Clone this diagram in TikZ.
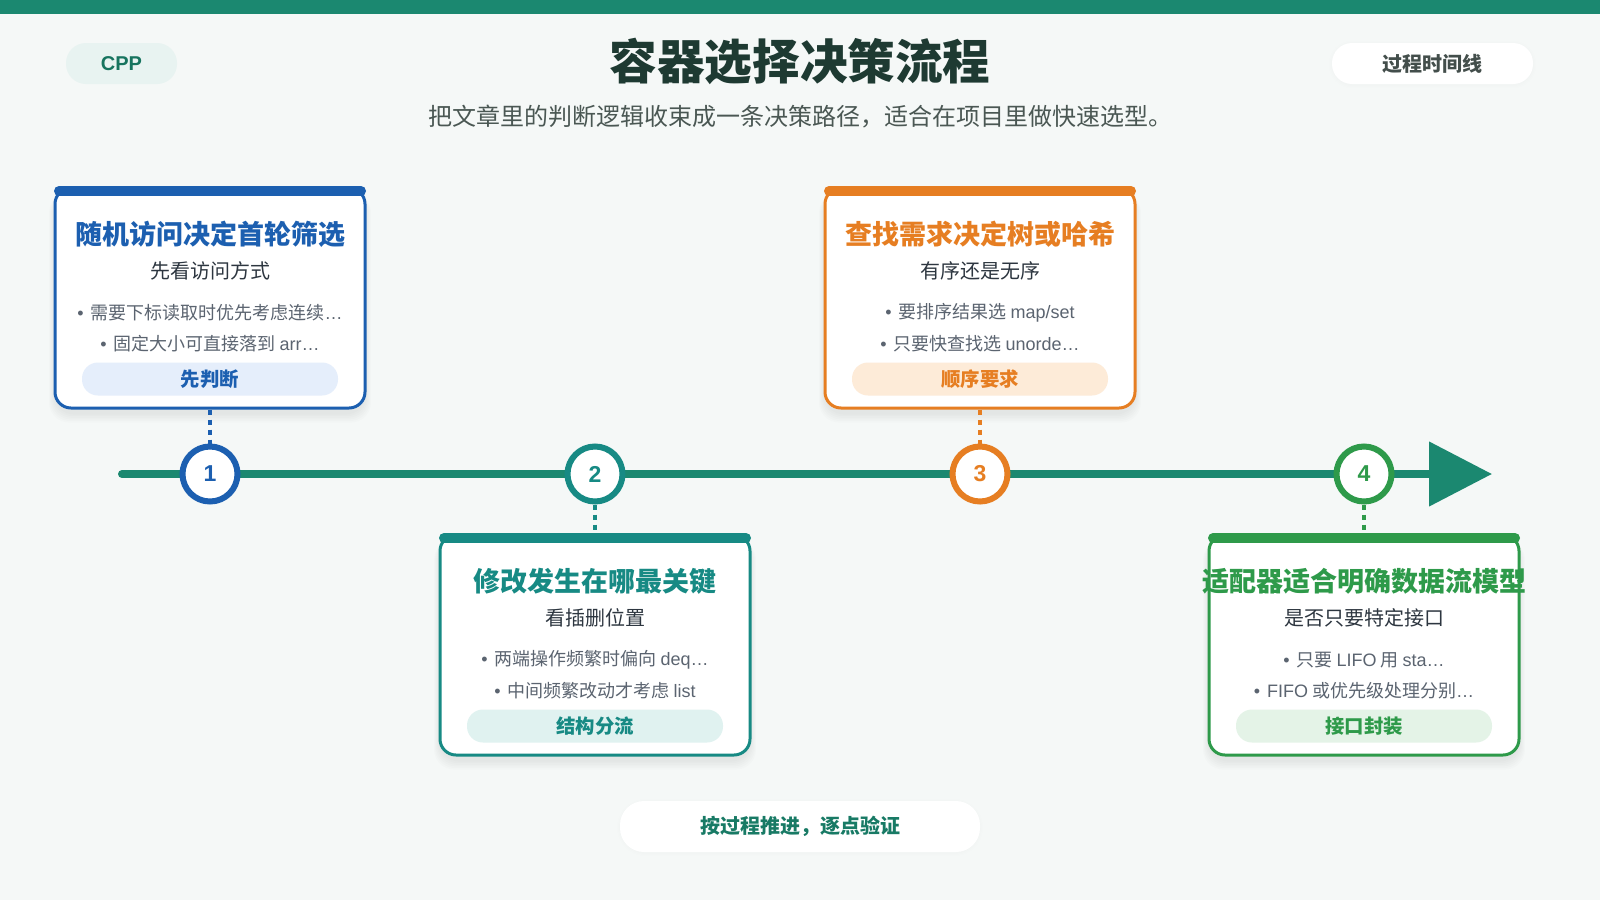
\documentclass[tikz,border=0pt]{standalone}
\usepackage{fontspec}
\setmainfont{Noto Sans CJK SC}
\newfontfamily\latf{Liberation Sans}
\usetikzlibrary{arrows.meta}
\definecolor{bgc}{HTML}{F5F8F7}
\definecolor{tlc}{HTML}{1B8870}
\definecolor{ttl}{HTML}{1E3A32}
\definecolor{subc}{HTML}{4A5753}
\definecolor{cardsub}{HTML}{2D3640}
\definecolor{bulc}{HTML}{5B6470}
\definecolor{colA}{HTML}{1C5FB0}\definecolor{ltA}{HTML}{E5EEFB}
\definecolor{colB}{HTML}{178A84}\definecolor{ltB}{HTML}{E0F2F0}
\definecolor{colC}{HTML}{E67E22}\definecolor{ltC}{HTML}{FDEBD8}
\definecolor{colD}{HTML}{2E9A4A}\definecolor{ltD}{HTML}{E4F3E7}
\newcommand\myfs[1]{\fontsize{#1}{#1}\selectfont}
\newcommand\lf[1]{{\latf #1}}
\newcommand\bul{\lf{•}\hspace{3.5pt}}
\tikzset{
  numring/.style={circle, line width=3pt, fill=white, minimum size=27.5pt, inner sep=0pt, font=\latf\bfseries\myfs{11.5}},
  dashlink/.style={line width=1.6pt, dash pattern=on 2.6pt off 2.4pt},
  cardbox/.style={line width=1.5pt, fill=white, rounded corners=8pt, minimum width=155pt, minimum height=110pt, inner sep=0pt},
  pillbox/.style={rounded corners=8pt, minimum width=128pt, minimum height=16.5pt, inner sep=0pt, font=\bfseries\myfs{9.7}},
}
\newcommand\mkcard[8]{%
 \begin{scope}[shift={(#2,#3)}]
  \foreach \k in {1,...,6} \fill[black,opacity=0.013,rounded corners=10pt] (-155-\k,5) rectangle (155+\k,225+1.6*\k);
  \node[cardbox, draw=col#1] (card#1) at (0,110) {};
  \draw[col#1, line width=5pt, line cap=round] (-151,3) -- (151,3);
  \node[text=col#1, font=\bfseries\myfs{13.5}] (t#1) at (0,46) {#4};
  \node[text=cardsub, font=\myfs{10}] (s#1) at (0,83) {#5};
  \node[text=bulc, font=\myfs{9}] (ba#1) at (0,125) {\bul #6};
  \node[text=bulc, font=\myfs{9}] (bb#1) at (0,156) {\bul #7};
  \node[pillbox, fill=lt#1, text=col#1] (p#1) at (0,191) {#8};
 \end{scope}}
\begin{document}
\begin{tikzpicture}[x=0.5pt,y=-0.5pt]
\useasboundingbox (0,0) rectangle (1600,900);
\fill[bgc] (0,0) rectangle (1600,900);
\fill[tlc] (0,0) rectangle (1600,14);
% header pills
\node[fill=tlc!10!white, rounded corners=10pt, minimum width=55.5pt, minimum height=20.5pt, inner sep=0pt, text=tlc!85!black, font=\latf\bfseries\myfs{10}] (cpp) at (121.5,63.5) {CPP};
\foreach \k in {1,...,3} \fill[black,opacity=0.003,rounded corners=11pt] (1332-\k,43-\k+1) rectangle (1533+\k,84+\k+1);
\node[fill=white, rounded corners=10pt, minimum width=100.5pt, minimum height=20.5pt, inner sep=0pt, text=subc!90!black, font=\bfseries\myfs{10}] (tl) at (1432.5,63.5) {过程时间线};
% title
\node[text=ttl, font=\bfseries\myfs{23.8}] (title) at (800,61) {容器选择决策流程};
\node[text=subc, font=\myfs{12}] (subtitle) at (800,117) {把文章里的判断逻辑收束成一条决策路径，适合在项目里做快速选型。};
% timeline
\coordinate (tstart) at (122,474);
\coordinate (tend) at (1492,474);
\draw[tlc, line width=4pt, line cap=round, -{Triangle[length=31.5pt,width=31.5pt]}] (tstart) -- (tend);
% cards
\mkcard{A}{210}{188}{随机访问决定首轮筛选}{先看访问方式}{需要下标读取时优先考虑连续\lf{…}}{固定大小可直接落到 \lf{arr…}}{先判断}
\mkcard{B}{595}{535}{修改发生在哪最关键}{看插删位置}{两端操作频繁时偏向 \lf{deq…}}{中间频繁改动才考虑 \lf{list}}{结构分流}
\mkcard{C}{980}{188}{查找需求决定树或哈希}{有序还是无序}{要排序结果选 \lf{map/set}}{只要快查找选 \lf{unorde…}}{顺序要求}
\mkcard{D}{1364}{535}{适配器适合明确数据流模型}{是否只要特定接口}{只要 \lf{LIFO} 用 \lf{sta…}}{\lf{FIFO} 或优先级处理分别\lf{…}}{接口封装}
% number circles
\node[numring, draw=colA, text=colA] (nA) at (210,474) {1};
\node[numring, draw=colB, text=colB] (nB) at (595,474) {2};
\node[numring, draw=colC, text=colC] (nC) at (980,474) {3};
\node[numring, draw=colD, text=colD] (nD) at (1364,474) {4};
% connectors
\draw[dashlink, colA] (cardA.south) -- (nA.north);
\draw[dashlink, colB] (nB.south) -- (cardB.north);
\draw[dashlink, colC] (cardC.south) -- (nC.north);
\draw[dashlink, colD] (nD.south) -- (cardD.north);
% bottom pill
\foreach \k in {1,...,3} \fill[black,opacity=0.003,rounded corners=14pt] (620-\k,801-\k+1) rectangle (980+\k,852+\k+1);
\node[fill=white, rounded corners=12pt, minimum width=180pt, minimum height=25.5pt, inner sep=0pt, text=tlc!90!black, font=\bfseries\myfs{10}] (foot) at (800,826.5) {按过程推进，逐点验证};
\end{tikzpicture}
\end{document}
